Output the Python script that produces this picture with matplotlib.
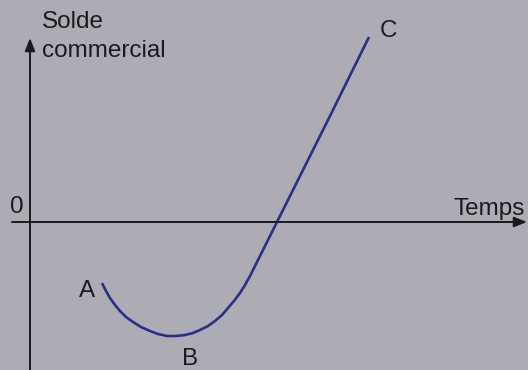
import numpy as np
import matplotlib.pyplot as plt

plt.rcParams['font.family'] = ['Liberation Sans', 'DejaVu Sans']

# courbe en J : temps / solde commercial (origine au croisement des axes)
temps = [72, 76, 80, 85, 90, 96, 103, 111, 120, 128, 137, 146, 155, 163, 170, 178,
         185, 192, 198, 204, 210, 215, 220, 224, 228, 232, 236, 247, 270, 300, 339]
solde = [-61, -69, -76, -83, -89, -95, -100, -105, -109, -112, -114, -114, -113, -111,
         -108, -104, -99, -93, -86, -79, -71, -63, -54, -46, -38, -30, -22, 0, 46, 106, 185]

points = {'A': (49, -75), 'B': (152, -143), 'C': (350, 185)}

bg = '#adacb4'
ink = '#1b1b1f'
navy = '#2a3088'

fig = plt.figure(figsize=(5.28, 3.70), dpi=100, facecolor=bg)
ax = fig.add_axes([0, 0, 1, 1])
ax.set_facecolor(bg)
ax.set_xlim(-30, 498)
ax.set_ylim(-148, 222)
ax.axis('off')

# axes with arrows
arrow = dict(arrowstyle='-|>,head_length=0.55,head_width=0.22', color=ink, lw=1.4,
             mutation_scale=14, shrinkA=0, shrinkB=0)
ax.annotate('', xy=(0, 184), xytext=(0, -150), arrowprops=arrow)
ax.annotate('', xy=(497, 0), xytext=(-18, 0), arrowprops=arrow)

ax.plot(temps, solde, color=navy, lw=1.9, solid_capstyle='butt', solid_joinstyle='round')

fs = 17.5
ax.text(12, 194, 'Solde', fontsize=fs, color=ink, va='baseline')
ax.text(12, 165, 'commercial', fontsize=fs, color=ink, va='baseline')
ax.text(-20, 9, '0', fontsize=fs, color=ink, va='baseline')
ax.text(495, 7, 'Temps', fontsize=fs, color=ink, va='baseline', ha='right')
for name, (x, y) in points.items():
    ax.text(x, y, name, fontsize=fs, color=ink, va='baseline')

fig.savefig('out.png', dpi=100, facecolor=bg)
